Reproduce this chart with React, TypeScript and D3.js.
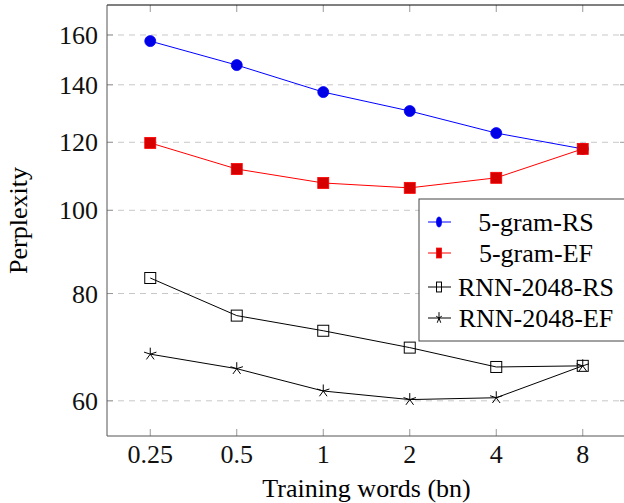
import React from "react";
import * as d3 from "d3";

const categories = ["0.25", "0.5", "1", "2", "4", "8"];
const yTicks = [60, 80, 100, 120, 140, 160];
const seriesNames = ["5-gram-RS", "5-gram-EF", "RNN-2048-RS", "RNN-2048-EF"];
const gramRS = [157.4, 147.6, 137.3, 130.5, 123.0, 117.9];
const gramEF = [119.8, 111.7, 107.6, 106.2, 109.1, 117.9];
const rnnRS = [83.4, 75.4, 72.4, 69.2, 65.7, 65.9];
const rnnEF = [68.0, 65.4, 61.6, 60.2, 60.5, 65.9];

const W = 624;
const H = 503;
const left = 107;
const right = 626;
const top = 5;
const bottom = 436;
const serif = "'Liberation Serif', 'Times New Roman', Times, serif";

type Mark = "circle" | "fsquare" | "osquare" | "star";

const Marker = ({ kind, x, y, sx = 1, sy = 1 }: { kind: Mark; x: number; y: number; sx?: number; sy?: number }) => {
  if (kind === "circle")
    return <ellipse cx={x} cy={y} rx={5.5 * sx} ry={5.5 * sy} fill="#0000e6" stroke="#0000ff" strokeWidth={0.8} />;
  if (kind === "fsquare")
    return <rect x={x - 5.5 * sx} y={y - 5.5 * sy} width={11 * sx} height={11 * sy} fill="#d60000" stroke="#ff0000" strokeWidth={0.8} />;
  if (kind === "osquare")
    return <rect x={x - 5.5 * sx} y={y - 5.5 * sy} width={11 * sx} height={11 * sy} fill="none" stroke="#000" strokeWidth={1} />;
  const r = 6.5;
  const d = d3.range(5).map((i) => {
    const a = (-90 + i * 72) * (Math.PI / 180);
    return `M${x},${y}L${x + r * sx * Math.cos(a)},${y + r * sy * Math.sin(a)}`;
  }).join("");
  return <path d={d} stroke="#000" strokeWidth={1} fill="none" />;
};

const App = () => {
  const x = d3.scalePoint<string>().domain(categories).range([left, right]).padding(0.5);
  const y = d3.scaleLog().domain([54.6, 173.4]).range([bottom, top]);

  const series = [
    { name: seriesNames[0], values: gramRS, color: "#0000ff", mark: "circle" as Mark },
    { name: seriesNames[1], values: gramEF, color: "#ff0000", mark: "fsquare" as Mark },
    { name: seriesNames[2], values: rnnRS, color: "#000000", mark: "osquare" as Mark },
    { name: seriesNames[3], values: rnnEF, color: "#000000", mark: "star" as Mark },
  ];

  const line = d3
    .line<number>()
    .x((_, i) => x(categories[i]) as number)
    .y((d) => y(d));

  const legendX = 419;
  const legendY = 199;
  const legendRows = [222, 253, 287, 318];

  return (
    <svg width={W} height={H} style={{ position: "absolute", left: 0, top: 0, fontFamily: serif }}>
      <rect width={W} height={H} fill="#fff" />
      {/* grid */}
      {yTicks.map((t) => (
        <g key={t}>
          <line x1={left} x2={right} y1={y(t)} y2={y(t)} stroke="#c8c8c8" strokeWidth={1} strokeDasharray="6,5" />
          <line x1={left} x2={left + 6} y1={y(t)} y2={y(t)} stroke="#999" />
          <line x1={right - 6} x2={right} y1={y(t)} y2={y(t)} stroke="#999" />
          <text x={98} y={y(t) + 9} textAnchor="end" fontSize={26} fill="#111">
            {t}
          </text>
        </g>
      ))}
      {categories.map((c) => (
        <g key={c}>
          <line x1={x(c)} x2={x(c)} y1={bottom} y2={bottom - 7} stroke="#999" />
          <line x1={x(c)} x2={x(c)} y1={top} y2={top + 7} stroke="#999" />
          <text x={x(c)} y={463} textAnchor="middle" fontSize={26} fill="#111">
            {c}
          </text>
        </g>
      ))}
      {/* frame */}
      <line x1={left} x2={right} y1={top} y2={top} stroke="#000" />
      <line x1={left} x2={left} y1={top} y2={bottom} stroke="#555" />
      <line x1={left} x2={right} y1={bottom} y2={bottom} stroke="#555" />
      <line x1={right} x2={right} y1={top} y2={bottom} stroke="#000" />
      {/* series */}
      {series.map((s) => (
        <g key={s.name}>
          <path d={line(s.values) || ""} fill="none" stroke={s.color} strokeWidth={1} />
          {s.values.map((v, i) => (
            <Marker key={i} kind={s.mark} x={x(categories[i]) as number} y={y(v)} />
          ))}
        </g>
      ))}
      {/* legend */}
      <rect x={legendX} y={legendY} width={215} height={142} fill="#fff" stroke="#444" strokeWidth={1} />
      {series.map((s, i) => (
        <g key={s.name}>
          <line x1={428} x2={451} y1={legendRows[i]} y2={legendRows[i]} stroke={s.color} strokeWidth={1} />
          <Marker kind={s.mark} x={439} y={legendRows[i]} sx={0.45} sy={0.9} />
          <text x={536} y={legendRows[i] + 9} textAnchor="middle" fontSize={26} fill="#000">
            {s.name}
          </text>
        </g>
      ))}
      {/* axis labels */}
      <text x={(left + right) / 2} y={497} textAnchor="middle" fontSize={26} fill="#000">
        Training words (bn)
      </text>
      <text transform={`translate(27, ${(top + bottom) / 2}) rotate(-90)`} textAnchor="middle" fontSize={26} fill="#000">
        Perplexity
      </text>
    </svg>
  );
};

export default App;
